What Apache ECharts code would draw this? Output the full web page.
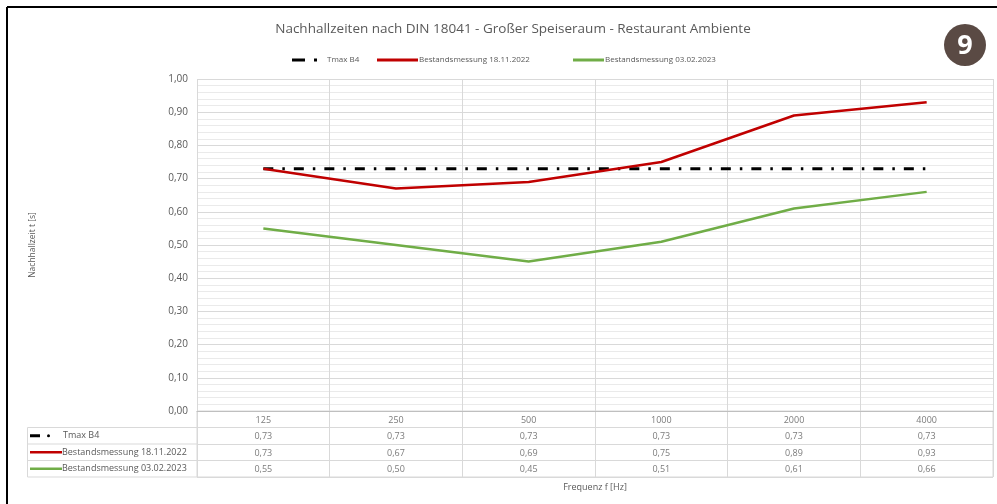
<!DOCTYPE html>
<html>
<head>
<meta charset="utf-8">
<script src="https://cdn.jsdelivr.net/npm/echarts@6/dist/echarts.min.js"></script>
<style>
  html, body { margin: 0; padding: 0; background: #fff; }
  #chart { width: 997px; height: 504px; }
</style>
</head>
<body>
<div id="chart"></div>
<script>
  // Frequenzbänder und Messwerte (Nachhallzeit in s)
  const frequencies = ['125', '250', '500', '1000', '2000', '4000']
  const tmaxB4 = [0.73, 0.73, 0.73, 0.73, 0.73, 0.73]
  const messung2022 = [0.73, 0.67, 0.69, 0.75, 0.89, 0.93]
  const messung2023 = [0.55, 0.50, 0.45, 0.51, 0.61, 0.66]
  const yTicks = [0, 0.1, 0.2, 0.3, 0.4, 0.5, 0.6, 0.7, 0.8, 0.9, 1.0]

  const nameTmax = 'Tmax B4'
  const name2022 = 'Bestandsmessung 18.11.2022'
  const name2023 = 'Bestandsmessung 03.02.2023'

  const FONT = 'Open Sans'
  const GREY = '#595959'
  const fmt = v => v.toFixed(2).replace('.', ',')

  // table layout
  const tLeft = 197, tRight = 4, tTop = 411, tBottom = 477, legendLeft = 27
  const rowH = (tBottom - tTop) / 4

  const chart = echarts.init(document.getElementById('chart'))

  const tableRows = [tmaxB4, messung2022, messung2023]
  const tableData = []
  frequencies.forEach((f, c) => tableData.push({ value: [c, 0], label: { formatter: f } }))
  tableRows.forEach((row, r) => {
    row.forEach((v, c) => tableData.push({ value: [c, r + 1, v] }))
  })

  const legendText = { fontFamily: FONT, fontSize: 8, color: GREY }

  const option = {
    animation: false,
    textStyle: { fontFamily: FONT },
    title: {
      text: 'Nachhallzeiten nach DIN 18041 - Großer Speiseraum - Restaurant Ambiente',
      left: 508,
      textAlign: 'center',
      top: 17,
      textStyle: { fontFamily: FONT, fontSize: 13.5, fontWeight: 'normal', color: GREY }
    },
    legend: [
      {
        data: [{ name: nameTmax, icon: 'path://M0,0h13v3h-13z M22,0h3v3h-3z' }],
        left: 287, top: 51, itemWidth: 25, itemHeight: 3.5,
        textStyle: Object.assign({ padding: [0, 0, 0, 5] }, legendText)
      },
      {
        data: [{ name: name2022, icon: 'rect' }],
        left: 372, top: 51, itemWidth: 41, itemHeight: 3,
        textStyle: Object.assign({ padding: [0, 0, 0, -4] }, legendText)
      },
      {
        data: [{ name: name2023, icon: 'rect' }],
        left: 568, top: 51, itemWidth: 31, itemHeight: 3,
        textStyle: Object.assign({ padding: [0, 0, 0, -4] }, legendText)
      }
    ],
    grid: [
      { left: 197, right: 4, top: 79, bottom: 504 - 411 },
      {
        left: tLeft, right: tRight, top: tTop, bottom: 504 - tBottom,
        show: true, borderColor: '#d9d9d9', borderWidth: 1
      }
    ],
    xAxis: [
      {
        type: 'category', gridIndex: 0, data: frequencies,
        axisLine: { lineStyle: { color: '#bfbfbf' } },
        axisTick: { show: false },
        axisLabel: { show: false },
        splitLine: { show: true, lineStyle: { color: '#d9d9d9' } }
      },
      {
        // faint lines through the category centres
        type: 'value', gridIndex: 0, min: 0, max: 12, interval: 1,
        show: false,
        splitLine: { show: true, lineStyle: { color: '#efefef' } }
      },
      {
        type: 'category', gridIndex: 1, data: frequencies, position: 'bottom',
        axisLine: { show: false }, axisTick: { show: false }, axisLabel: { show: false },
        splitLine: { show: true, lineStyle: { color: '#d9d9d9' } },
        name: 'Frequenz f [Hz]', nameLocation: 'middle', nameGap: 6,
        nameTextStyle: { fontFamily: FONT, fontSize: 9, color: GREY, verticalAlign: 'top' }
      }
    ],
    yAxis: [
      {
        type: 'value', gridIndex: 0, min: 0, max: 1, interval: 0.1,
        axisLine: { show: false }, axisTick: { show: false },
        axisLabel: {
          margin: 9, fontFamily: FONT, fontSize: 10, color: GREY,
          formatter: v => yTicks.some(t => Math.abs(t - v) < 1e-6) ? fmt(v) : ''
        },
        splitLine: { show: true, lineStyle: { color: '#d9d9d9' } },
        minorTick: { show: false, splitNumber: 5 },
        minorSplitLine: { show: true, lineStyle: { color: '#eaeaea' } },
        name: 'Nachhallzeit t [s]', nameLocation: 'middle', nameGap: 160,
        nameTextStyle: { fontFamily: FONT, fontSize: 8.5, color: GREY }
      },
      {
        type: 'category', gridIndex: 1, inverse: true,
        data: ['', nameTmax, name2022, name2023],
        axisLine: { show: false }, axisTick: { show: false },
        splitLine: { show: true, lineStyle: { color: '#d9d9d9' } },
        axisLabel: {
          align: 'left', margin: tLeft - 30,
          fontFamily: FONT, fontSize: 9, color: GREY,
          formatter: (v, i) => {
            if (i === 1) return '{dash|}{gap|}{dot|}{gap2|}' + v
            if (i === 2) return '{red|}' + v
            if (i === 3) return '{green|}' + v
            return ''
          },
          rich: {
            dash: { width: 10, height: 3, backgroundColor: '#000', verticalAlign: 'middle' },
            gap: { width: 7, height: 3 },
            dot: { width: 3, height: 3, backgroundColor: '#000', borderRadius: 1.5, verticalAlign: 'middle' },
            gap2: { width: 13, height: 3 },
            red: { width: 32, height: 2.5, backgroundColor: '#c00000', verticalAlign: 'middle' },
            green: { width: 32, height: 2.5, backgroundColor: '#70ad47', verticalAlign: 'middle' }
          }
        }
      }
    ],
    series: [
      {
        name: nameTmax, type: 'line', data: tmaxB4, symbol: 'none',
        xAxisIndex: 0, yAxisIndex: 0, z: 3,
        lineStyle: { color: '#000', width: 3, type: [10, 9, 2.5, 9] },
        itemStyle: { color: '#000' }
      },
      {
        name: name2022, type: 'line', data: messung2022, symbol: 'none',
        xAxisIndex: 0, yAxisIndex: 0, z: 4,
        lineStyle: { color: '#c00000', width: 2.5 },
        itemStyle: { color: '#c00000' }
      },
      {
        name: name2023, type: 'line', data: messung2023, symbol: 'none',
        xAxisIndex: 0, yAxisIndex: 0, z: 4,
        lineStyle: { color: '#70ad47', width: 2.5 },
        itemStyle: { color: '#70ad47' }
      },
      {
        name: 'table', type: 'scatter', xAxisIndex: 2, yAxisIndex: 1,
        data: tableData, symbolSize: 1, itemStyle: { color: 'transparent' },
        silent: true,
        label: {
          show: true, position: 'inside', fontFamily: FONT, fontSize: 9, color: GREY,
          offset: [0, 1],
          formatter: p => fmt(p.value[2])
        }
      }
    ],
    graphic: [
      // Rahmen oben/links
      { type: 'line', shape: { x1: 7, y1: 7, x2: 997, y2: 7 }, style: { stroke: '#000', lineWidth: 2 } },
      { type: 'line', shape: { x1: 7, y1: 7, x2: 7, y2: 504 }, style: { stroke: '#000', lineWidth: 2 } },
      // Legendenspalte der Datentabelle
      {
        type: 'rect', shape: { x: legendLeft + 0.5, y: tTop + rowH, width: tLeft - legendLeft, height: rowH * 3 },
        style: { fill: 'none', stroke: '#d9d9d9', lineWidth: 1 }
      },
      { type: 'line', shape: { x1: legendLeft, y1: tTop + rowH * 2, x2: tLeft, y2: tTop + rowH * 2 }, style: { stroke: '#d9d9d9' } },
      { type: 'line', shape: { x1: legendLeft, y1: tTop + rowH * 3, x2: tLeft, y2: tTop + rowH * 3 }, style: { stroke: '#d9d9d9' } },
      // Nummer-Badge
      { type: 'circle', shape: { cx: 965, cy: 45, r: 21 }, style: { fill: '#5a4a44' } },
      {
        type: 'text', x: 965, y: 46,
        style: { text: '9', fill: '#fff', font: 'bold 27px "Open Sans"', align: 'center', verticalAlign: 'middle' }
      }
    ]
  }

  chart.setOption(option)
</script>
</body>
</html>
